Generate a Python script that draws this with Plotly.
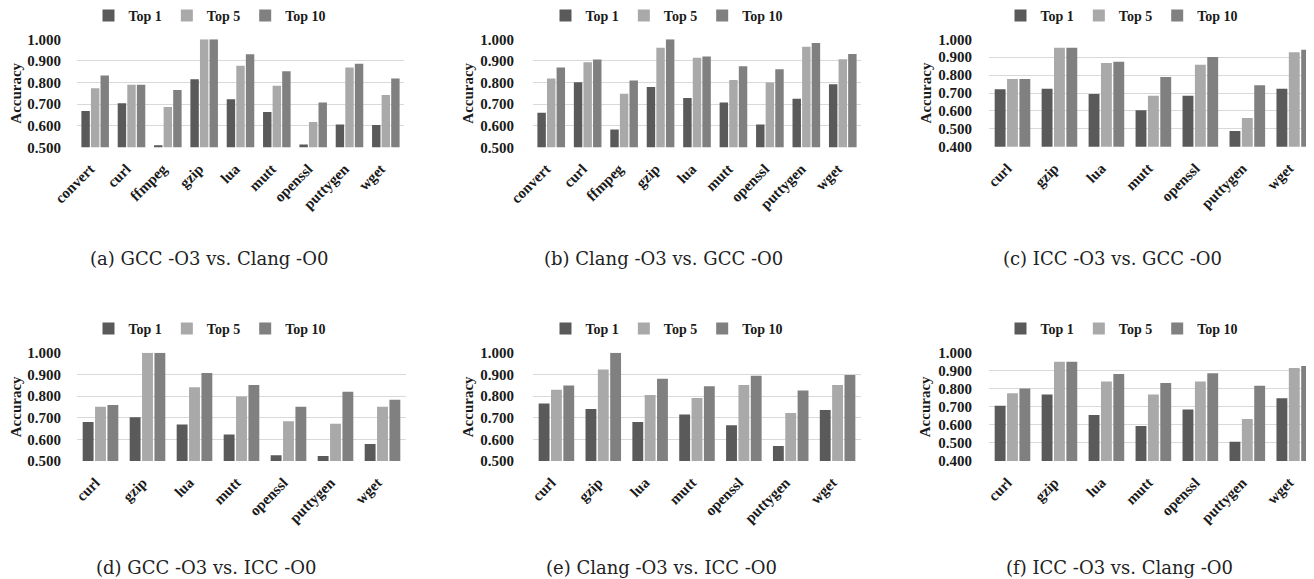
import plotly.graph_objects as go

# page has an 8px body margin; figure placed at (8, 8) in the 1314x579 window
OFF = 8
W, H = 1314 - OFF, 579 - OFF

series_names = ["Top 1", "Top 5", "Top 10"]
series_colors = ["#5a5a5a", "#a9a9a9", "#808080"]

cats_9 = ["convert", "curl", "ffmpeg", "gzip", "lua", "mutt", "openssl", "puttygen", "wget"]
cats_7 = ["curl", "gzip", "lua", "mutt", "openssl", "puttygen", "wget"]

# (a) GCC -O3 vs. Clang -O0
a_top1 = [0.668, 0.704, 0.510, 0.815, 0.722, 0.664, 0.513, 0.606, 0.603]
a_top5 = [0.773, 0.790, 0.687, 1.000, 0.878, 0.785, 0.617, 0.869, 0.742]
a_top10 = [0.832, 0.790, 0.765, 1.000, 0.931, 0.852, 0.707, 0.887, 0.818]

# (b) Clang -O3 vs. GCC -O0
b_top1 = [0.660, 0.801, 0.582, 0.779, 0.728, 0.707, 0.606, 0.725, 0.792]
b_top5 = [0.818, 0.894, 0.748, 0.961, 0.915, 0.812, 0.800, 0.965, 0.908]
b_top10 = [0.869, 0.907, 0.809, 1.000, 0.920, 0.875, 0.861, 0.983, 0.932]

# (c) ICC -O3 vs. GCC -O0
c_top1 = [0.721, 0.724, 0.694, 0.603, 0.685, 0.488, 0.724]
c_top5 = [0.778, 0.953, 0.868, 0.685, 0.858, 0.560, 0.927]
c_top10 = [0.778, 0.953, 0.875, 0.789, 0.901, 0.743, 0.942]

# (d) GCC -O3 vs. ICC -O0
d_top1 = [0.680, 0.702, 0.669, 0.622, 0.526, 0.523, 0.578]
d_top5 = [0.751, 1.000, 0.840, 0.798, 0.683, 0.672, 0.751]
d_top10 = [0.758, 1.000, 0.906, 0.851, 0.751, 0.820, 0.783]

# (e) Clang -O3 vs. ICC -O0
e_top1 = [0.765, 0.740, 0.680, 0.715, 0.665, 0.569, 0.735]
e_top5 = [0.829, 0.923, 0.805, 0.791, 0.851, 0.722, 0.851]
e_top10 = [0.848, 1.000, 0.880, 0.845, 0.894, 0.826, 0.897]

# (f) ICC -O3 vs. Clang -O0
f_top1 = [0.706, 0.769, 0.655, 0.594, 0.686, 0.507, 0.747]
f_top5 = [0.775, 0.950, 0.840, 0.769, 0.840, 0.633, 0.915]
f_top10 = [0.801, 0.950, 0.882, 0.832, 0.886, 0.817, 0.926]

captions = [
    "(a) GCC -O3 vs. Clang -O0",
    "(b) Clang -O3 vs. GCC -O0",
    "(c) ICC -O3 vs. GCC -O0",
    "(d) GCC -O3 vs. ICC -O0",
    "(e) Clang -O3 vs. ICC -O0",
    "(f) ICC -O3 vs. Clang -O0",
]

panels = [
    (cats_9, [a_top1, a_top5, a_top10], 0.5),
    (cats_9, [b_top1, b_top5, b_top10], 0.5),
    (cats_7, [c_top1, c_top5, c_top10], 0.4),
    (cats_7, [d_top1, d_top5, d_top10], 0.5),
    (cats_7, [e_top1, e_top5, e_top10], 0.5),
    (cats_7, [f_top1, f_top5, f_top10], 0.4),
]

# layout geometry in window pixels
x_doms = [(77, 404), (533, 861), (989, 1314), (77, 406), (533, 861), (989, 1314)]
y_doms = [(39.3, 147.3), (39.3, 147.3), (39.3, 146.7), (352.7, 461), (352.7, 461), (352.7, 461)]
title_standoff = [4, 2, 3, 4, 2, 3]
label_standoff = [15, 18, 16, 15, 18, 16]
legend_pos = [(210, 16), (667, 16), (1122, 16), (210, 329), (667, 329), (1122, 329)]
caption_pos = [(209, 258), (664, 258), (1112, 258), (206, 567), (662, 567), (1119, 567)]


def fx(px):
    return min(1.0, max(0.0, (px - OFF) / W))


def fy(py):
    return min(1.0, max(0.0, 1 - (py - OFF) / H))


FONT = "Liberation Serif"
CAP_FONT = "DejaVu Serif"
TXT = "#1a1a1a"
fig = go.Figure()

for i, (cats, vals, ymin) in enumerate(panels):
    idx = "" if i == 0 else str(i + 1)
    leg = "legend" if i == 0 else f"legend{i + 1}"
    for s, name in enumerate(series_names):
        fig.add_trace(go.Bar(
            x=cats, y=vals[s], name=name,
            marker=dict(color=series_colors[s], line=dict(width=0)),
            xaxis="x" + idx, yaxis="y" + idx, legend=leg,
        ))
    x0, x1 = x_doms[i]
    y0, y1 = y_doms[i]
    xr = [-0.5, len(cats) - 0.5]
    if i in (2, 5):
        xr = [-0.5, len(cats) - 0.58]
    fig.update_layout(**{
        "xaxis" + idx: dict(
            domain=[fx(x0), fx(x1)], anchor="y" + idx, range=xr, automargin=False,
            tickangle=-45, tickfont=dict(family=FONT, size=15, color=TXT, weight="bold"),
            ticklabelstandoff=9, ticklabelshift=-5,
            showgrid=False, showline=False, zeroline=False, ticks="",
        ),
        "yaxis" + idx: dict(
            domain=[fy(y1), fy(y0)], anchor="x" + idx, automargin=False,
            range=[ymin, 1.0], dtick=0.1, tick0=0, tickformat=".3f",
            tickfont=dict(family=FONT, size=15, color=TXT, weight="bold"),
            showgrid=True, gridcolor="#d9d9d9", gridwidth=1,
            zeroline=False, showline=False, ticks="", ticklabelstandoff=label_standoff[i],
            title=dict(text="Accuracy", font=dict(family=FONT, size=15, color=TXT, weight="bold"),
                       standoff=title_standoff[i]),
        ),
    })
    lx, ly = legend_pos[i]
    fig.update_layout(**{
        leg: dict(
            orientation="h", x=fx(lx), y=fy(ly), xanchor="center", yanchor="middle",
            font=dict(family=FONT, size=14, color=TXT, weight="bold"),
            itemwidth=30,
            bgcolor="rgba(0,0,0,0)", tracegroupgap=0,
        )
    })
    cx, cy = caption_pos[i]
    fig.add_annotation(
        text=captions[i], x=fx(cx), y=fy(cy), xref="paper", yref="paper",
        xanchor="center", yanchor="middle", showarrow=False,
        font=dict(family=CAP_FONT, size=18, color="#222222"),
    )

fig.update_layout(
    width=W, height=H, margin=dict(l=0, r=0, t=0, b=0, autoexpand=False),
    paper_bgcolor="white", plot_bgcolor="white",
    barmode="group", bargap=0.21, bargroupgap=0.12,
    font=dict(family=FONT, color=TXT),
)

fig.write_html("out.html")
